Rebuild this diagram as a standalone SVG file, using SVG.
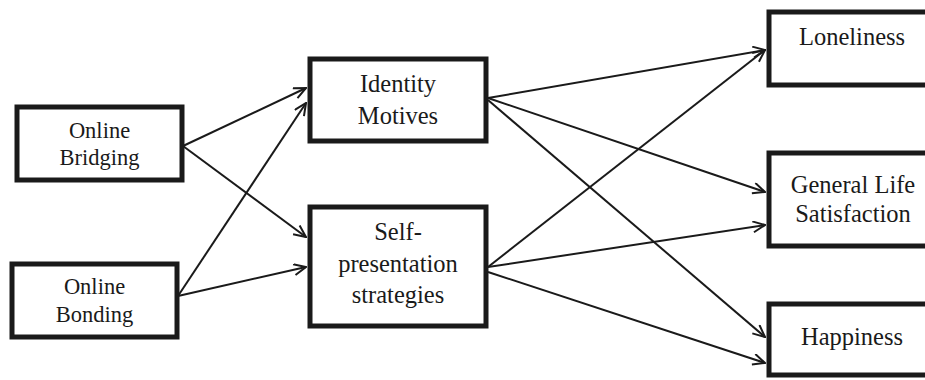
<svg xmlns="http://www.w3.org/2000/svg" width="925" height="380" viewBox="0 0 925 380">
<style>
.box{fill:#fff;stroke:#1a1a1a;stroke-width:5}
.t{font-family:"Liberation Serif","Times New Roman",serif;fill:#1a1a1a;text-anchor:middle}
.s{font-size:22.5px}
.l{font-size:24.5px}
.c{stroke:#1a1a1a;stroke-width:2;fill:none;marker-end:url(#ah)}
</style>
<defs>
<marker id="ah" markerUnits="userSpaceOnUse" markerWidth="14" markerHeight="14" refX="13" refY="6" orient="auto">
<path d="M1,0.5 L13,6 L1,11.5" fill="none" stroke="#1a1a1a" stroke-width="2"/>
</marker>
</defs>
<rect width="925" height="380" fill="#fff"/>
<g id="connectors">
<line class="c" x1="183" y1="146" x2="306" y2="88"/>
<line class="c" x1="183" y1="146" x2="306" y2="237"/>
<line class="c" x1="178" y1="296" x2="306" y2="103"/>
<line class="c" x1="178" y1="296" x2="306" y2="267"/>
<line class="c" x1="488" y1="98" x2="765" y2="50"/>
<line class="c" x1="488" y1="98" x2="765" y2="192"/>
<line class="c" x1="488" y1="100" x2="765" y2="337"/>
<line class="c" x1="488" y1="267" x2="765" y2="50"/>
<line class="c" x1="488" y1="267" x2="765" y2="225"/>
<line class="c" x1="488" y1="272" x2="765" y2="363"/>
</g>
<g id="online-bridging">
<rect class="box" x="17" y="107" width="165" height="73"/>
<text class="t s" x="99.5" y="138">Online</text>
<text class="t s" x="99.5" y="165">Bridging</text>
</g>
<g id="online-bonding">
<rect class="box" x="12" y="264" width="165" height="73"/>
<text class="t s" x="94.5" y="294">Online</text>
<text class="t s" x="94.5" y="322">Bonding</text>
</g>
<g id="identity-motives">
<rect class="box" x="310" y="59" width="176" height="82"/>
<text class="t l" x="398" y="92">Identity</text>
<text class="t l" x="398" y="124">Motives</text>
</g>
<g id="self-presentation">
<rect class="box" x="310" y="207" width="176" height="119"/>
<text class="t l" x="398" y="240">Self-</text>
<text class="t l" x="398" y="272">presentation</text>
<text class="t l" x="398" y="303">strategies</text>
</g>
<g id="loneliness">
<rect class="box" x="769" y="12" width="170" height="73"/>
<text class="t l" x="852" y="45">Loneliness</text>
</g>
<g id="general-life-satisfaction">
<rect class="box" x="769" y="153" width="170" height="93"/>
<text class="t l" x="853" y="193">General Life</text>
<text class="t l" x="853" y="222">Satisfaction</text>
</g>
<g id="happiness">
<rect class="box" x="769" y="304" width="170" height="71"/>
<text class="t l" x="852" y="345">Happiness</text>
</g>
</svg>
